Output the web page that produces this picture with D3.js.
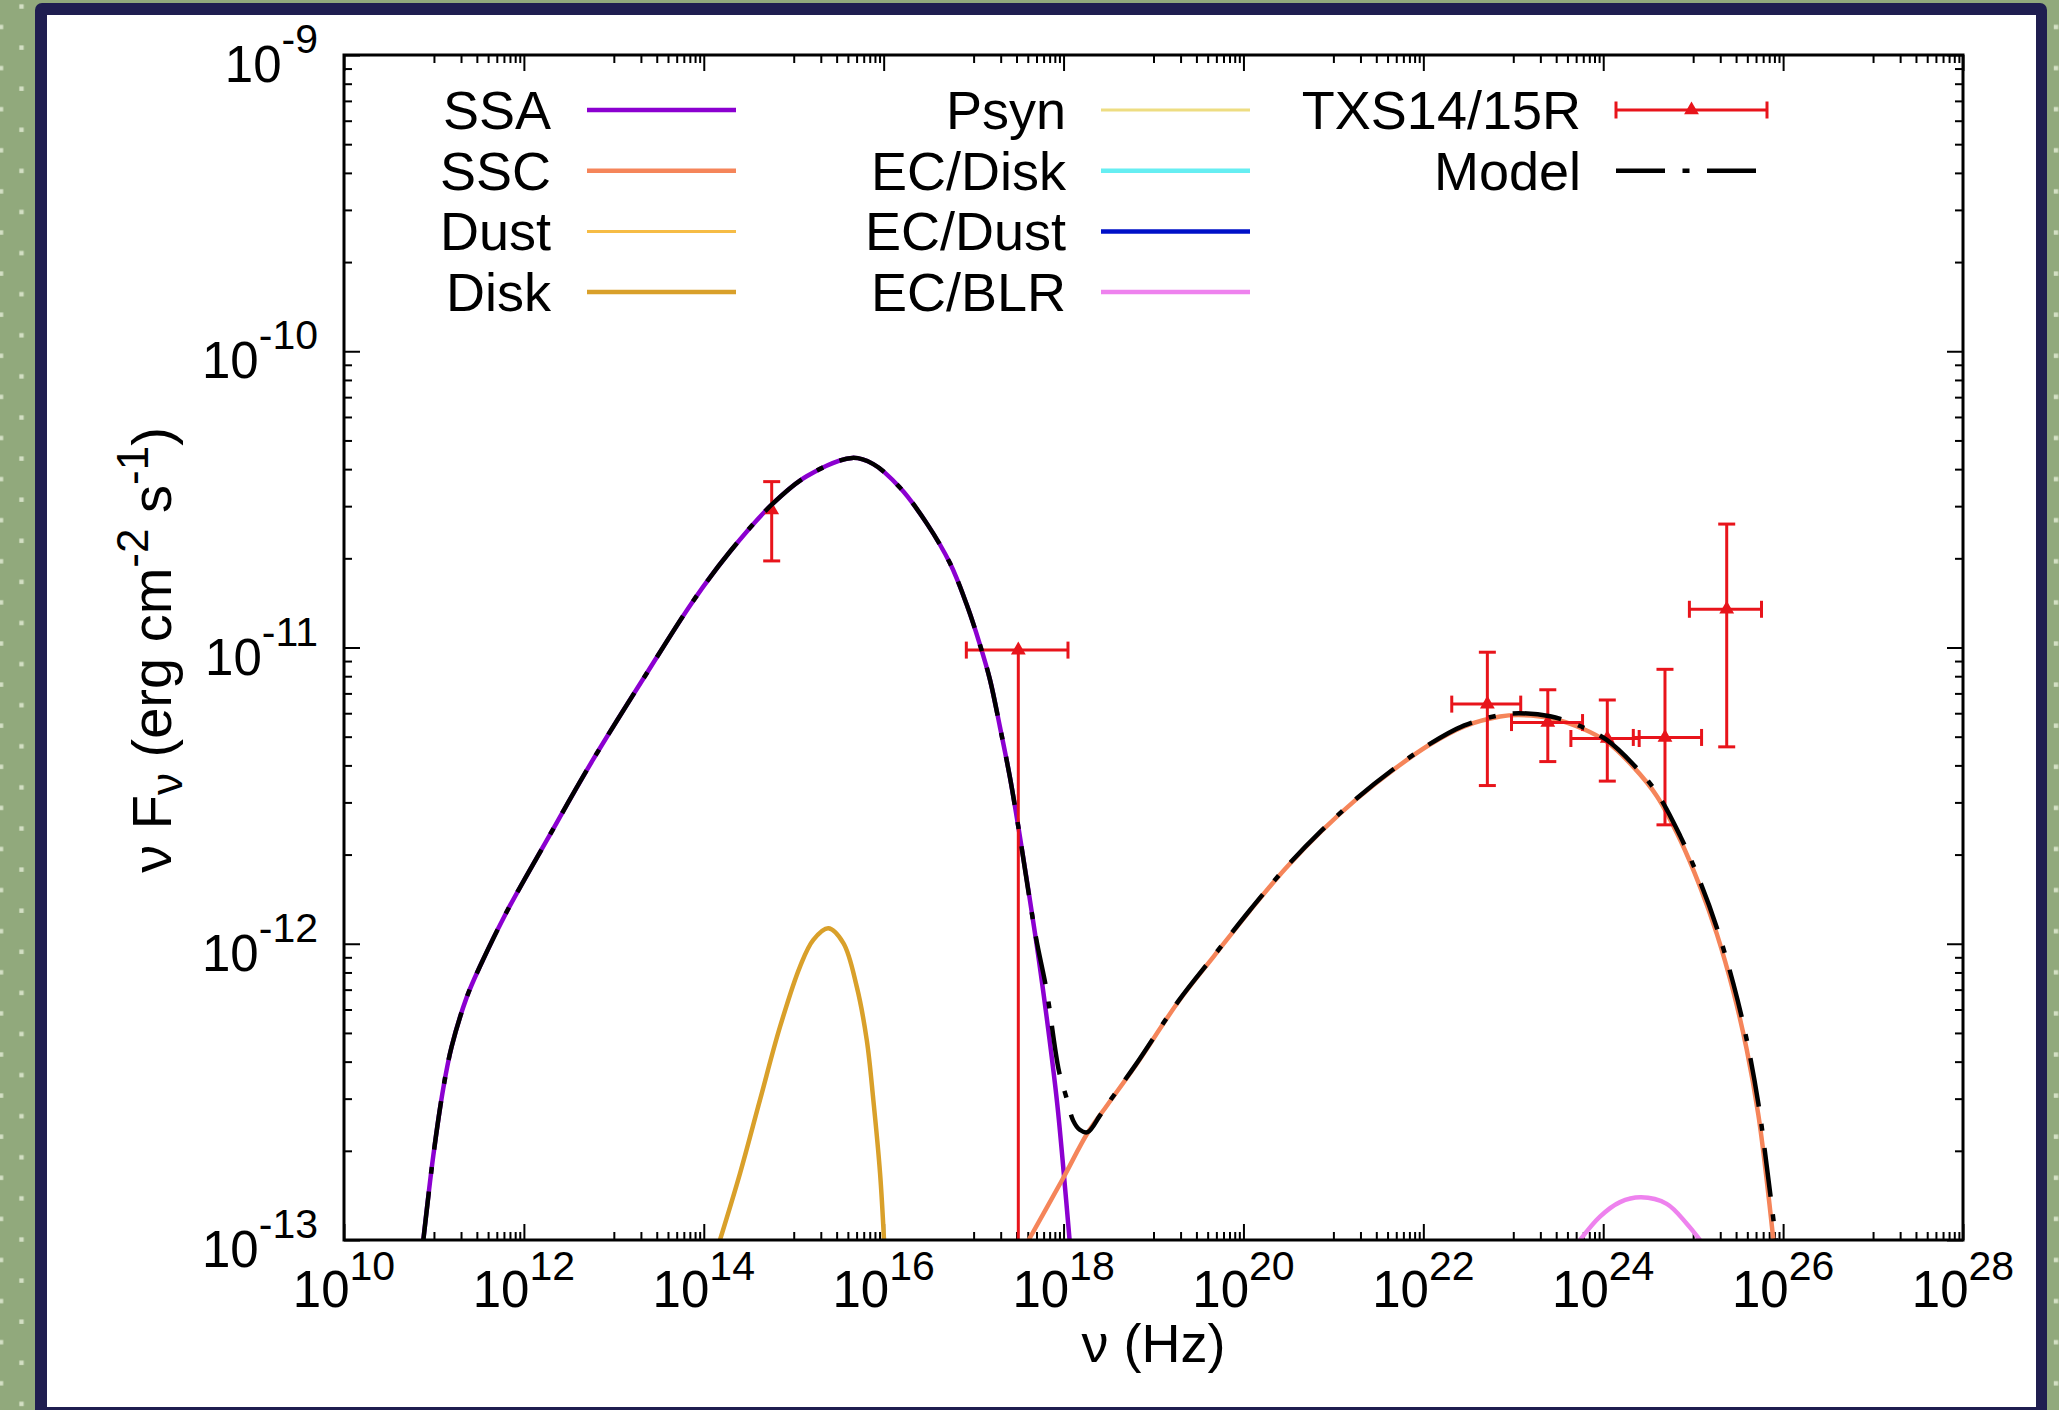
<!DOCTYPE html>
<html>
<head>
<meta charset="utf-8">
<title>TXS SED</title>
<script src="https://cdn.jsdelivr.net/npm/d3@7"></script>
<style>
  html, body { margin: 0; padding: 0; background: #91a97c; }
  svg { display: block; }
  text { font-family: "Liberation Sans", Arial, Helvetica, sans-serif; fill: #000; }
</style>
</head>
<body>
<svg id="chart" width="2059" height="1410"></svg>
<script>
// ---- Model components: log10(ν / Hz) and log10(νFν / erg cm^-2 s^-1) ----
const ssaLogNu   = [10.882, 10.993, 11.104, 11.197, 11.364, 11.512, 11.809, 12.254, 12.772, 13.366, 13.884, 14.292, 14.755, 15.144, 15.65, 15.885, 16.18, 16.479, 16.738, 16.923, 17.07, 17.183, 17.294, 17.405, 17.497, 17.691, 17.81, 17.929, 18.001, 18.067];
const ssaLogFlux = [-13, -12.715, -12.487, -12.347, -12.181, -12.076, -11.892, -11.651, -11.377, -11.087, -10.842, -10.676, -10.518, -10.422, -10.36, -10.381, -10.46, -10.581, -10.716, -10.855, -10.99, -11.11, -11.27, -11.44, -11.605, -11.982, -12.243, -12.538, -12.77, -13];

const sscLogNu   = [17.612, 17.989, 18.267, 18.485, 18.803, 19.28, 19.677, 20.073, 20.47, 20.867, 21.264, 21.662, 22.059, 22.456, 22.853, 23.06, 23.409, 23.779, 24.039, 24.335, 24.595, 24.854, 25.076, 25.262, 25.447, 25.596, 25.725, 25.818, 25.892];
const sscLogFlux = [-13, -12.795, -12.639, -12.545, -12.41, -12.194, -12.04, -11.888, -11.745, -11.62, -11.51, -11.414, -11.33, -11.266, -11.233, -11.228, -11.238, -11.275, -11.318, -11.403, -11.501, -11.648, -11.807, -11.966, -12.162, -12.358, -12.578, -12.798, -13];

const diskLogNu   = [14.18, 14.403, 14.625, 14.848, 15.07, 15.218, 15.385, 15.552, 15.7, 15.812, 15.885, 15.96, 16.004];
const diskLogFlux = [-13, -12.775, -12.527, -12.28, -12.077, -11.987, -11.948, -11.998, -12.144, -12.325, -12.527, -12.775, -13];

const blrLogNu   = [23.742, 23.964, 24.187, 24.42, 24.706, 24.929, 25.076];
const blrLogFlux = [-13, -12.921, -12.872, -12.856, -12.878, -12.945, -13];

// Dust, Psyn, EC/Disk and EC/Dust stay below 1e-13 over the plotted range
const dustLogNu = [], dustLogFlux = [];
const psynLogNu = [], psynLogFlux = [];
const ecDiskLogNu = [], ecDiskLogFlux = [];
const ecDustLogNu = [], ecDustLogFlux = [];

// Total model
const modelLogNu   = [10.882, 10.993, 11.104, 11.197, 11.364, 11.512, 11.809, 12.254, 12.772, 13.366, 13.884, 14.292, 14.755, 15.144, 15.65, 15.885, 16.18, 16.479, 16.738, 16.923, 17.07, 17.183, 17.294, 17.405, 17.497, 17.691, 17.81, 17.949, 18.028, 18.107, 18.18, 18.267, 18.4, 18.485, 18.803, 19.28, 19.677, 20.073, 20.47, 20.867, 21.264, 21.662, 22.059, 22.456, 22.853, 23.06, 23.409, 23.779, 24.039, 24.335, 24.595, 24.854, 25.076, 25.262, 25.447, 25.596, 25.725, 25.818, 25.92];
const modelLogFlux = [-13, -12.715, -12.487, -12.347, -12.181, -12.076, -11.892, -11.651, -11.377, -11.087, -10.842, -10.676, -10.518, -10.422, -10.36, -10.381, -10.46, -10.581, -10.716, -10.855, -10.99, -11.11, -11.27, -11.44, -11.605, -11.975, -12.155, -12.43, -12.515, -12.597, -12.628, -12.636, -12.582, -12.543, -12.408, -12.192, -12.038, -11.886, -11.743, -11.618, -11.508, -11.412, -11.328, -11.263, -11.228, -11.222, -11.232, -11.27, -11.312, -11.395, -11.49, -11.635, -11.79, -11.945, -12.135, -12.325, -12.54, -12.75, -13];

// ---- TXS14/15R observations (ν in Hz, νFν in erg cm^-2 s^-1) ----
const obsNu       = [5.69e14, 3.14e17, 5.15e22, 2.42e23, 1.11e24, 4.86e24, 2.36e25];
const obsNuLow    = [5.69e14, 8.3e16, 2.07e22, 9.55e22, 4.37e23, 2.16e24, 9.08e24];
const obsNuHigh   = [5.69e14, 1.12e18, 1.21e23, 5.89e23, 2.51e24, 1.24e25, 5.75e25];
const obsFlux     = [2.91e-11, 9.8e-12, 6.44e-12, 5.58e-12, 4.93e-12, 4.97e-12, 1.346e-11];
const obsFluxLow  = [1.96e-11, 1e-14, 3.42e-12, 4.12e-12, 3.54e-12, 2.52e-12, 4.62e-12];
const obsFluxHigh = [3.63e-11, 9.8e-12, 9.64e-12, 7.2e-12, 6.65e-12, 8.44e-12, 2.61e-11];

// ---- Axis ticks (exponents) ----
const xTickExponents = [10, 12, 14, 16, 18, 20, 22, 24, 26, 28];
const yTickExponents = [-13, -12, -11, -10, -9];

// ---- Legend ----
const legendCol1 = ["SSA", "SSC", "Dust", "Disk"];
const legendCol2 = ["Psyn", "EC/Disk", "EC/Dust", "EC/BLR"];
const legendCol3 = ["TXS14/15R", "Model"];

const colors = {
  "SSA": "#8b00d0", "SSC": "#f5855a", "Dust": "#f6bc45", "Disk": "#d9a02a",
  "Psyn": "#eedd82", "EC/Disk": "#66eef2", "EC/Dust": "#0010c8", "EC/BLR": "#ee82ee"
};
const widths = {
  "SSA": 4.5, "SSC": 4.5, "Dust": 3, "Disk": 4.5,
  "Psyn": 3, "EC/Disk": 4.5, "EC/Dust": 4.5, "EC/BLR": 4.5
};
const dataRed = "#e8141b";
const modelDash = "49,17.5,7,17.5";

// ---- Layout ----
const W = 2059, H = 1410;
const plot = { left: 344, right: 1963, top: 55, bottom: 1240 };
const tickFont = 51, supFont = 41, labelFont = 54;

const svg = d3.select("#chart");
const defs = svg.append("defs");

// dotted green backdrop
const pat = defs.append("pattern")
  .attr("id", "dots").attr("patternUnits", "userSpaceOnUse")
  .attr("x", -10).attr("y", 0).attr("width", 41.1).attr("height", 41.1);
pat.append("rect").attr("width", 41.1).attr("height", 41.1).attr("fill", "#91a97c");
pat.append("rect").attr("x", 11 - 2.2).attr("y", 27 - 2.2).attr("width", 4.4).attr("height", 4.4).attr("fill", "#d3dfc4");
pat.append("rect").attr("x", 31.5 - 2.2).attr("y", 6.5 - 2.2).attr("width", 4.4).attr("height", 4.4).attr("fill", "#d3dfc4");

svg.append("rect").attr("width", W).attr("height", H).attr("fill", "url(#dots)");
svg.append("rect").attr("x", 35).attr("y", 3).attr("width", 2012).attr("height", 1430)
  .attr("rx", 7).attr("fill", "#1f1e50");
svg.append("rect").attr("x", 47).attr("y", 15).attr("width", 1989).attr("height", 1392)
  .attr("fill", "#ffffff");

defs.append("clipPath").attr("id", "plotClip")
  .append("rect").attr("x", plot.left).attr("y", plot.top)
  .attr("width", plot.right - plot.left).attr("height", plot.bottom - plot.top);

// ---- Scales ----
const x = d3.scaleLog().domain([1e10, 1e28]).range([plot.left, plot.right]);
const y = d3.scaleLog().domain([1e-13, 1e-9]).range([plot.bottom, plot.top]);

// ---- Ticks (inward, mirrored on all four sides) ----
const xMajor = xTickExponents.map(e => Math.pow(10, e));
const xMinor = [];
for (let e = 11; e < 28; e += 2) for (let k = 1; k <= 9; k++) xMinor.push(k * Math.pow(10, e));
const yMajor = yTickExponents.map(e => Math.pow(10, e));
const yMinor = [];
for (let e = -13; e < -9; e++) for (let k = 2; k <= 9; k++) yMinor.push(k * Math.pow(10, e));

const axes = svg.append("g").attr("class", "axes");
function addAxis(gen, tx, ty, values, size) {
  const g = axes.append("g").attr("transform", `translate(${tx},${ty})`)
    .call(gen.tickValues(values).tickSize(size).tickSizeOuter(0).tickFormat(""));
  g.select(".domain").remove();
  g.selectAll(".tick line").attr("stroke", "#000").attr("stroke-width", 2);
}
addAxis(d3.axisBottom(x), 0, plot.bottom, xMajor, -16);
addAxis(d3.axisBottom(x), 0, plot.bottom, xMinor, -8);
addAxis(d3.axisTop(x), 0, plot.top, xMajor, -16);
addAxis(d3.axisTop(x), 0, plot.top, xMinor, -8);
addAxis(d3.axisLeft(y), plot.left, 0, yMajor, -16);
addAxis(d3.axisLeft(y), plot.left, 0, yMinor, -8);
addAxis(d3.axisRight(y), plot.right, 0, yMajor, -16);
addAxis(d3.axisRight(y), plot.right, 0, yMinor, -8);

// tick labels with superscript exponents
const xl = svg.append("g").selectAll("text").data(xTickExponents).join("text")
  .attr("x", e => x(Math.pow(10, e))).attr("y", plot.bottom + 67)
  .attr("text-anchor", "middle").attr("font-size", tickFont);
xl.append("tspan").text("10");
xl.append("tspan").attr("dy", -27).attr("font-size", supFont).text(e => e);

const yl = svg.append("g").selectAll("text").data(yTickExponents).join("text")
  .attr("x", plot.left - 26).attr("y", e => y(Math.pow(10, e)) + 27)
  .attr("text-anchor", "end").attr("font-size", tickFont);
yl.append("tspan").text("10");
yl.append("tspan").attr("dy", -29).attr("font-size", supFont).text(e => e);

// axis titles
svg.append("text").attr("x", (plot.left + plot.right) / 2).attr("y", 1362)
  .attr("text-anchor", "middle").attr("font-size", labelFont).text("ν (Hz)");

const yt = svg.append("text").attr("transform", "translate(171,650) rotate(-90)")
  .attr("text-anchor", "middle").attr("font-size", 56);
yt.append("tspan").text("ν F");
yt.append("tspan").attr("dy", 11).attr("font-size", 44).text("ν");
yt.append("tspan").attr("dy", -11).text(" (erg cm");
yt.append("tspan").attr("dy", -23).attr("font-size", 44).text("-2");
yt.append("tspan").attr("dy", 23).text(" s");
yt.append("tspan").attr("dy", -23).attr("font-size", 44).text("-1");
yt.append("tspan").attr("dy", 23).text(")");

// ---- Curves ----
const toPoints = (lx, ly) => lx.map((v, i) => ({ nu: Math.pow(10, v), f: Math.pow(10, ly[i]) }));
const line = d3.line().x(d => x(d.nu)).y(d => y(d.f)).curve(d3.curveCatmullRom.alpha(0.5));

const curves = svg.append("g").attr("clip-path", "url(#plotClip)");
const componentData = [
  ["SSA", ssaLogNu, ssaLogFlux],
  ["SSC", sscLogNu, sscLogFlux],
  ["Dust", dustLogNu, dustLogFlux],
  ["Disk", diskLogNu, diskLogFlux],
  ["Psyn", psynLogNu, psynLogFlux],
  ["EC/Disk", ecDiskLogNu, ecDiskLogFlux],
  ["EC/Dust", ecDustLogNu, ecDustLogFlux],
  ["EC/BLR", blrLogNu, blrLogFlux]
];
componentData.forEach(([name, lx, ly]) => {
  if (!lx.length) return;
  curves.append("path").datum(toPoints(lx, ly)).attr("d", line)
    .attr("fill", "none").attr("stroke", colors[name]).attr("stroke-width", widths[name])
    .attr("stroke-linejoin", "round");
});

// ---- Observations with error bars ----
const obs = obsNu.map((nu, i) => ({
  nu, f: obsFlux[i], nuLo: obsNuLow[i], nuHi: obsNuHigh[i], fLo: obsFluxLow[i], fHi: obsFluxHigh[i]
}));
const cap = 8.5;
const og = curves.append("g").attr("stroke", dataRed).attr("stroke-width", 3).attr("fill", "none");
obs.forEach(d => {
  const cx = x(d.nu), cy = y(d.f);
  if (d.fLo < d.f || d.fHi > d.f) {
    og.append("line").attr("x1", cx).attr("x2", cx).attr("y1", y(d.fHi)).attr("y2", y(d.fLo));
    if (d.fHi > d.f) og.append("line").attr("x1", cx - cap).attr("x2", cx + cap).attr("y1", y(d.fHi)).attr("y2", y(d.fHi));
    if (d.fLo < d.f) og.append("line").attr("x1", cx - cap).attr("x2", cx + cap).attr("y1", y(d.fLo)).attr("y2", y(d.fLo));
  }
  if (d.nuLo < d.nu || d.nuHi > d.nu) {
    og.append("line").attr("x1", x(d.nuLo)).attr("x2", x(d.nuHi)).attr("y1", cy).attr("y2", cy);
    og.append("line").attr("x1", x(d.nuLo)).attr("x2", x(d.nuLo)).attr("y1", cy - cap).attr("y2", cy + cap);
    og.append("line").attr("x1", x(d.nuHi)).attr("x2", x(d.nuHi)).attr("y1", cy - cap).attr("y2", cy + cap);
  }
});
const tri = d3.symbol(d3.symbolTriangle, 95);
curves.append("g").selectAll("path").data(obs).join("path")
  .attr("d", tri).attr("transform", d => `translate(${x(d.nu)},${y(d.f)})`)
  .attr("fill", dataRed);

// ---- Model (dash-dot) on top ----
curves.append("path").datum(toPoints(modelLogNu, modelLogFlux)).attr("d", line)
  .attr("fill", "none").attr("stroke", "#000").attr("stroke-width", 4.5)
  .attr("stroke-dasharray", modelDash);

// ---- Frame ----
svg.append("rect").attr("x", plot.left).attr("y", plot.top)
  .attr("width", plot.right - plot.left).attr("height", plot.bottom - plot.top)
  .attr("fill", "none").attr("stroke", "#000").attr("stroke-width", 3);

// ---- Legend ----
const rowY = i => 110 + 60.7 * i;
const leg = svg.append("g");
function legendText(xRight, i, label) {
  leg.append("text").attr("x", xRight).attr("y", rowY(i) + 19)
    .attr("text-anchor", "end").attr("font-size", labelFont).text(label);
}
legendCol1.forEach((name, i) => {
  legendText(551, i, name);
  leg.append("line").attr("x1", 587).attr("x2", 736).attr("y1", rowY(i)).attr("y2", rowY(i))
    .attr("stroke", colors[name]).attr("stroke-width", widths[name]);
});
legendCol2.forEach((name, i) => {
  legendText(1066, i, name);
  leg.append("line").attr("x1", 1101).attr("x2", 1250).attr("y1", rowY(i)).attr("y2", rowY(i))
    .attr("stroke", colors[name]).attr("stroke-width", widths[name]);
});
legendCol3.forEach((name, i) => legendText(1581, i, name));
// observation key
{
  const ly0 = rowY(0), x1 = 1616, x2 = 1767;
  const g = leg.append("g").attr("stroke", dataRed).attr("stroke-width", 3);
  g.append("line").attr("x1", x1).attr("x2", x2).attr("y1", ly0).attr("y2", ly0);
  g.append("line").attr("x1", x1).attr("x2", x1).attr("y1", ly0 - cap).attr("y2", ly0 + cap);
  g.append("line").attr("x1", x2).attr("x2", x2).attr("y1", ly0 - cap).attr("y2", ly0 + cap);
  leg.append("path").attr("d", tri).attr("transform", `translate(${(x1 + x2) / 2},${ly0})`).attr("fill", dataRed);
}
// model key
leg.append("line").attr("x1", 1616).attr("x2", 1767).attr("y1", rowY(1)).attr("y2", rowY(1))
  .attr("stroke", "#000").attr("stroke-width", 4.5).attr("stroke-dasharray", modelDash);
</script>
</body>
</html>
